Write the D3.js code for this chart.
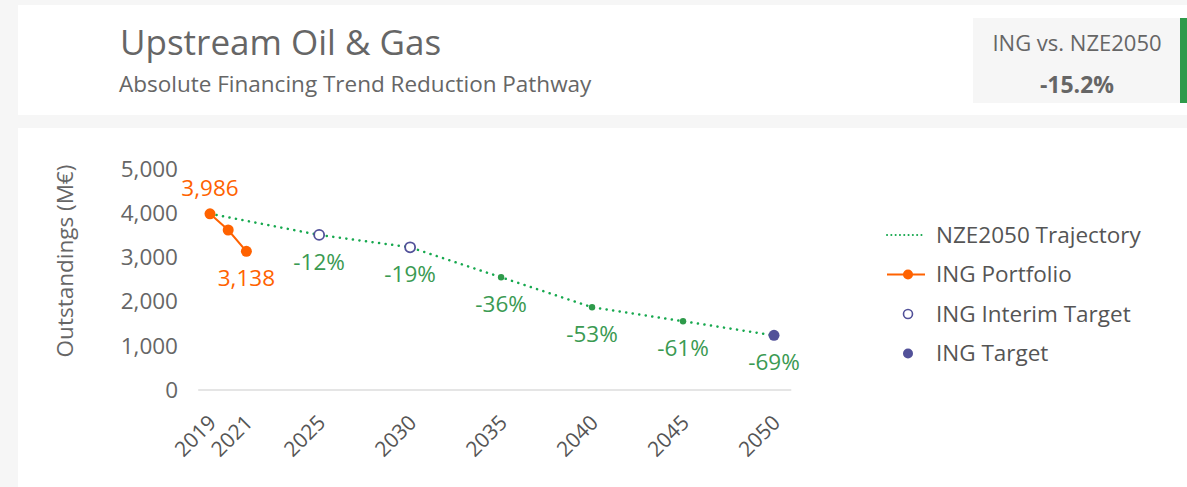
<!DOCTYPE html>
<html>
<head>
<meta charset="utf-8">
<script src="https://cdn.jsdelivr.net/npm/d3@7"></script>
<style>
  html, body { margin: 0; padding: 0; background: #f6f6f6; }
  svg { display: block; font-family: "Open Sans", sans-serif; }
</style>
</head>
<body>
<div id="chart"></div>
<script>
// data
const portfolioYears = [2019, 2020, 2021];
const portfolioValues = [3986, 3620, 3138];
const portfolioLabels = ["3,986", null, "3,138"];

const trajectoryYears = [2019, 2025, 2030, 2035, 2040, 2045, 2050];
const trajectoryValues = [3986, 3508, 3229, 2551, 1873, 1555, 1236];
const trajectoryLabels = [null, "-12%", "-19%", "-36%", "-53%", "-61%", "-69%"];

const interimYears = [2025, 2030];
const targetYears = [2050];

const xTickYears = [2019, 2021, 2025, 2030, 2035, 2040, 2045, 2050];
const yTickValues = [0, 1000, 2000, 3000, 4000, 5000];

const legendLabels = ["NZE2050 Trajectory", "ING Portfolio", "ING Interim Target", "ING Target"];

const orange = "#ff6200";
const navy = "#525199";
const green = "#16a84e";
const pctGreen = "#3b9a52";
const grey = "#666666";

const width = 1187, height = 487;

const svg = d3.select("#chart").append("svg")
    .attr("width", width)
    .attr("height", height);

//////////////// CARDS ////////////////
svg.append("rect").attr("x", 18).attr("y", 5).attr("width", width - 18).attr("height", 110).attr("fill", "#fff");
svg.append("rect").attr("x", 18).attr("y", 128).attr("width", width - 18).attr("height", height - 128).attr("fill", "#fff");

svg.append("text")
    .attr("x", 120).attr("y", 55)
    .attr("font-size", 35)
    .attr("fill", grey)
    .text("Upstream Oil & Gas");

svg.append("text")
    .attr("x", 119).attr("y", 92)
    .attr("font-size", 22.5)
    .attr("fill", grey)
    .text("Absolute Financing Trend Reduction Pathway");

// KPI box
svg.append("rect").attr("x", 973).attr("y", 18).attr("width", 207).attr("height", 85).attr("fill", "#f6f6f6");
svg.append("rect").attr("x", 1180).attr("y", 18).attr("width", 7).attr("height", 85).attr("fill", "#2f9a4b");
svg.append("text")
    .attr("x", 1077).attr("y", 51)
    .attr("text-anchor", "middle")
    .attr("font-size", 22)
    .attr("fill", grey)
    .text("ING vs. NZE2050");
svg.append("text")
    .attr("x", 1077).attr("y", 93)
    .attr("text-anchor", "middle")
    .attr("font-size", 23)
    .attr("font-weight", "bold")
    .attr("fill", grey)
    .text("-15.2%");

//////////////// SCALES ////////////////
const x = d3.scaleLinear().domain([2019, 2050]).range([210, 774]);
const y = d3.scaleLinear().domain([0, 5000]).range([390, 169]);

// baseline
svg.append("line")
    .attr("x1", x(2018.35)).attr("x2", x(2050.95))
    .attr("y1", y(0)).attr("y2", y(0))
    .attr("stroke", "#dddddd")
    .attr("stroke-width", 1.5);

// y axis
const yAxis = svg.append("g")
    .attr("transform", "translate(178,0)")
    .call(d3.axisLeft(y).tickValues(yTickValues).tickFormat(d3.format(",")).tickSize(0).tickPadding(0));
yAxis.select(".domain").remove();
yAxis.selectAll("text")
    .attr("font-family", "'Open Sans', sans-serif")
    .attr("font-size", 22.5)
    .attr("fill", grey);

svg.append("text")
    .attr("transform", "translate(73,261) rotate(-90)")
    .attr("text-anchor", "middle")
    .attr("font-size", 22.5)
    .attr("fill", grey)
    .text("Outstandings (M€)");

// x axis
const xAxis = svg.append("g")
    .attr("transform", "translate(0,412)")
    .call(d3.axisBottom(x).tickValues(xTickYears).tickFormat(d3.format("d")).tickSize(0).tickPadding(0));
xAxis.select(".domain").remove();
xAxis.selectAll("text")
    .attr("font-family", "'Open Sans', sans-serif")
    .attr("font-size", 21)
    .attr("fill", "#555")
    .attr("text-anchor", "end")
    .attr("dy", 0)
    .attr("transform", "translate(7,12) rotate(-45)");

//////////////// LINES ////////////////
const line = d3.line()
    .x(d => x(d[0]))
    .y(d => y(d[1]));

svg.append("path")
    .datum(d3.zip(trajectoryYears, trajectoryValues))
    .attr("d", line)
    .attr("fill", "none")
    .attr("stroke", green)
    .attr("stroke-width", 2.5)
    .attr("stroke-linecap", "round")
    .attr("stroke-dasharray", "0.1 6.5");

svg.append("path")
    .datum(d3.zip(portfolioYears, portfolioValues))
    .attr("d", line)
    .attr("fill", "none")
    .attr("stroke", orange)
    .attr("stroke-width", 2);

// trajectory markers
const traj = d3.zip(trajectoryYears, trajectoryValues, trajectoryLabels);
svg.selectAll(".traj-dot")
    .data(traj.filter(d => d[0] !== 2019 && !interimYears.includes(d[0]) && !targetYears.includes(d[0])))
    .join("circle")
    .attr("cx", d => x(d[0]))
    .attr("cy", d => y(d[1]))
    .attr("r", 3.2)
    .attr("fill", "#2e9a4a");

svg.selectAll(".interim")
    .data(traj.filter(d => interimYears.includes(d[0])))
    .join("circle")
    .attr("cx", d => x(d[0]))
    .attr("cy", d => y(d[1]))
    .attr("r", 5)
    .attr("fill", "#fff")
    .attr("stroke", navy)
    .attr("stroke-width", 1.8);

svg.selectAll(".target")
    .data(traj.filter(d => targetYears.includes(d[0])))
    .join("circle")
    .attr("cx", d => x(d[0]))
    .attr("cy", d => y(d[1]))
    .attr("r", 5.5)
    .attr("fill", navy);

svg.selectAll(".pct")
    .data(traj.filter(d => d[2]))
    .join("text")
    .attr("x", d => x(d[0]))
    .attr("y", d => y(d[1]) + 27)
    .attr("dy", "0.35em")
    .attr("text-anchor", "middle")
    .attr("font-size", 22.5)
    .attr("fill", pctGreen)
    .text(d => d[2]);

// portfolio markers
const port = d3.zip(portfolioYears, portfolioValues, portfolioLabels);
svg.selectAll(".port")
    .data(port)
    .join("circle")
    .attr("cx", d => x(d[0]))
    .attr("cy", d => y(d[1]))
    .attr("r", 5.5)
    .attr("fill", orange);

svg.selectAll(".port-label")
    .data(port.filter(d => d[2]))
    .join("text")
    .attr("x", d => x(d[0]))
    .attr("y", (d, i) => i === 0 ? y(d[1]) - 26 : y(d[1]) + 27)
    .attr("dy", "0.35em")
    .attr("text-anchor", "middle")
    .attr("font-size", 22.5)
    .attr("fill", orange)
    .text(d => d[2]);

//////////////// LEGEND ////////////////
const legend = svg.append("g").attr("transform", "translate(887,235)");
const rowH = 39.5;
legendLabels.forEach((label, i) => {
    const g = legend.append("g").attr("transform", `translate(0,${i * rowH})`);
    if (i === 0) {
        g.append("line").attr("x1", 0).attr("x2", 38).attr("y1", 0).attr("y2", 0)
            .attr("stroke", green).attr("stroke-width", 2)
            .attr("stroke-linecap", "round").attr("stroke-dasharray", "0.1 4.2");
    } else if (i === 1) {
        g.append("line").attr("x1", 0).attr("x2", 38).attr("y1", 0).attr("y2", 0)
            .attr("stroke", orange).attr("stroke-width", 2);
        g.append("circle").attr("cx", 21).attr("cy", 0).attr("r", 5).attr("fill", orange);
    } else if (i === 2) {
        g.append("circle").attr("cx", 21).attr("cy", 0).attr("r", 4.5)
            .attr("fill", "#fff").attr("stroke", navy).attr("stroke-width", 1.6);
    } else {
        g.append("circle").attr("cx", 21).attr("cy", 0).attr("r", 5).attr("fill", navy);
    }
    g.append("text")
        .attr("x", 49).attr("y", 0)
        .attr("dy", "0.35em")
        .attr("font-size", 22.5)
        .attr("fill", "#555")
        .text(label);
});
</script>
</body>
</html>
